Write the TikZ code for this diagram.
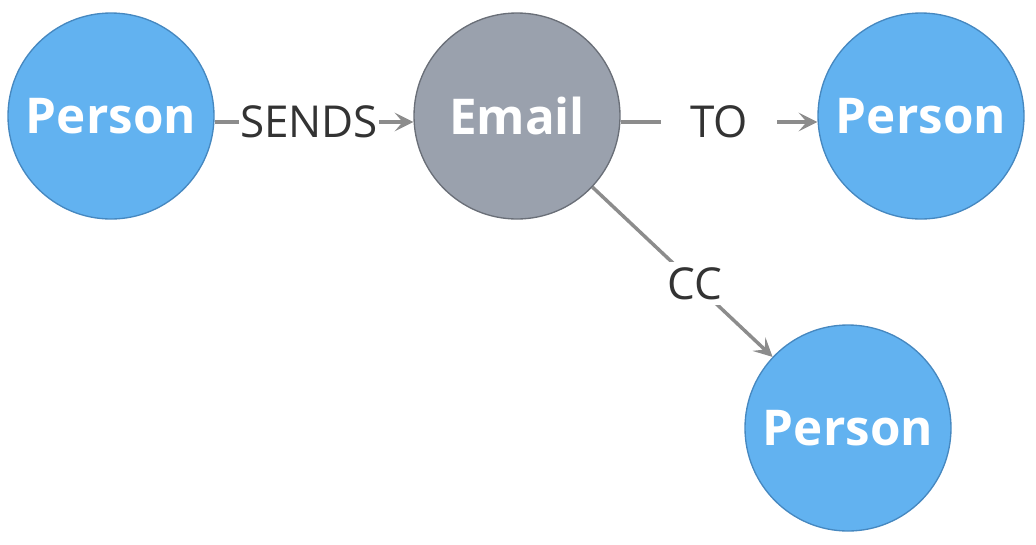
\documentclass[tikz,border=0pt]{standalone}
\usepackage{fontspec}
\setmainfont{Open Sans}
\usetikzlibrary{arrows.meta}

\definecolor{personfill}{RGB}{98,178,240}
\definecolor{persondraw}{RGB}{70,136,192}
\definecolor{emailfill}{RGB}{154,161,173}
\definecolor{emaildraw}{RGB}{106,111,120}
\definecolor{relgray}{RGB}{140,140,140}
\definecolor{reltext}{RGB}{51,51,51}

\tikzset{
  entity/.style={circle, minimum size=154.5pt, inner sep=0pt, line width=1pt,
    text=white, font=\fontsize{37}{37}\selectfont\bfseries},
  person/.style={entity, fill=personfill, draw=persondraw},
  email/.style={entity, fill=emailfill, draw=emaildraw},
  rel/.style={draw=relgray, line width=2.6pt,
    -{Stealth[length=14pt,width=14pt,inset=6pt]}},
  rellabel/.style={fill=white, text=reltext, inner sep=1pt,
    font=\fontsize{33}{33}\selectfont}
}

\begin{document}
\begin{tikzpicture}[x=0.75pt,y=0.75pt,yscale=-1,xscale=1]
  \useasboundingbox (0,0) rectangle (1036,544);

  % Nodes
  \node [person] (sender) at (111,116) {Person};
  \node [email] (mail) at (517,116) {Email};
  \node [person] (receiver) at (921,116) {Person};
  \node [person] (copied) at (848,428) {Person};

  % Relationships
  \draw [rel] ([yshift=4.5pt]sender.east) -- node [rellabel, pos=0.475] (sends) {SENDS} ([yshift=4.5pt]mail.west);
  \draw [rel] ([yshift=4.5pt]mail.east) -- node [rellabel, inner xsep=22pt] (to) {TO} ([yshift=4.5pt]receiver.west);
  \draw [rel] (mail) -- node [rellabel, pos=0.57, inner sep=4pt] (cc) {CC} (copied);

\end{tikzpicture}
\end{document}
